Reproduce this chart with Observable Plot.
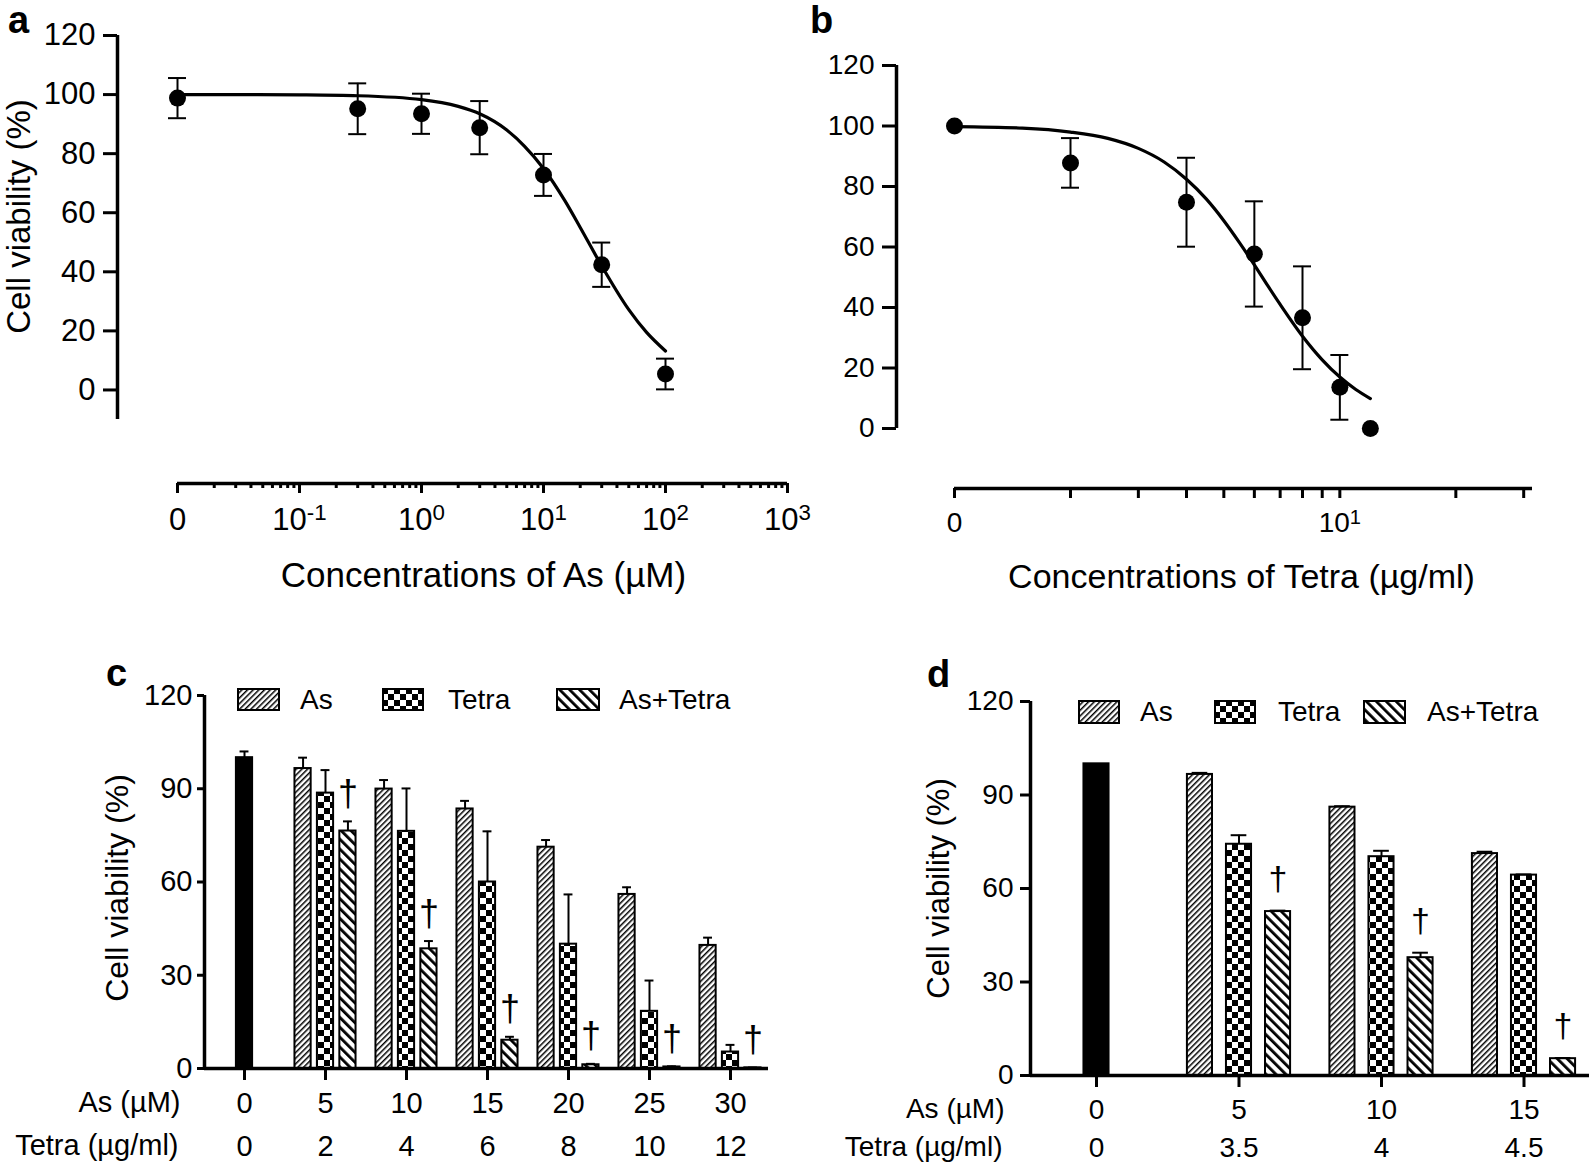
<!DOCTYPE html>
<html><head><meta charset="utf-8">
<script src="https://cdn.jsdelivr.net/npm/d3@7"></script>
<script src="https://cdn.jsdelivr.net/npm/@observablehq/plot@0.6"></script>
<style>
body{margin:0;background:#fff;}
#fig{position:relative;width:1595px;height:1171px;background:#fff;font-family:"Liberation Sans",Arial,Helvetica,sans-serif;color:#000;overflow:hidden}
.panel{position:absolute}
.letter{position:absolute;font-weight:bold;font-size:38px;line-height:38px}
.leg{position:absolute;font-size:28px;line-height:28px;white-space:nowrap}
.sw{position:absolute}
</style></head><body>
<svg width="0" height="0" style="position:absolute">
 <defs>
  <pattern id="pAs" patternUnits="userSpaceOnUse" width="4" height="4" patternTransform="rotate(45)">
    <rect width="4" height="4" fill="white"/>
    <rect x="0" y="0" width="1.5" height="4" fill="black"/>
  </pattern>
  <pattern id="pCombo" patternUnits="userSpaceOnUse" width="7" height="7" patternTransform="rotate(-45)">
    <rect width="7" height="7" fill="white"/>
    <rect x="0" y="0" width="2.8" height="7" fill="black"/>
  </pattern>
  <pattern id="pTetra" patternUnits="userSpaceOnUse" width="12" height="12">
    <rect width="12" height="12" fill="white"/>
    <rect x="0" y="0" width="6" height="6" fill="black"/>
    <rect x="6" y="6" width="6" height="6" fill="black"/>
  </pattern>
 </defs>
</svg>
<div id="fig"></div>
<script>
// ---------- DATA ----------
// Panel a: As dose-response
const asConcA = [0, 0.3, 1, 3, 10, 30, 100];
const viabA   = [98.8, 95.2, 93.5, 88.8, 72.8, 42.4, 5.4];
const sdA     = [6.8, 8.6, 6.8, 9.0, 7.1, 7.5, 5.2];
const fitXA   = [0.01, 0.03, 0.1, 0.3, 1, 2, 3, 5, 7, 10, 15, 20, 30, 50, 70, 100];
const fitYA   = [100, 100, 99.9, 99.6, 98.3, 96.0, 93.5, 88.0, 82.5, 75.0, 64.0, 55.0, 42.0, 27.2, 19.5, 13.2];
const majorTicksA  = [0.01, 0.1, 1, 10, 100, 1000];
const majorLabelsA = ["0", "10⁻¹", "10⁰", "10¹", "10²", "10³"];
const yTicksA = [0, 20, 40, 60, 80, 100, 120];

// Panel b: Tetra dose-response
const tetraConcB = [0, 2, 4, 6, 8, 10, 12];
const viabB      = [100, 87.8, 74.8, 57.7, 36.6, 13.6, 0];
const sdB        = [0, 8.2, 14.7, 17.4, 17.0, 10.7, 0];
const fitXB = [1, 1.5, 2, 2.5, 3, 3.5, 4, 4.5, 5, 5.5, 6, 6.5, 7, 8, 9, 10, 11, 12];
const fitYB = [99.8, 99.3, 98.0, 95.9, 92.6, 88.1, 82.4, 75.9, 68.7, 61.3, 54.1, 47.2, 41.0, 30.5, 22.7, 17.0, 12.9, 9.9];
const ticksB       = [1, 2, 3, 4, 5, 6, 7, 8, 9, 10, 20, 30];
const majorTicksB  = [1, 10];
const majorLabelsB = ["0", "10¹"];
const yTicksB = [0, 20, 40, 60, 80, 100, 120];

// Panel c: combination bars
const seriesNames = ["As", "Tetra", "As+Tetra"];
const asDoseC    = ["0", "5", "10", "15", "20", "25", "30"];
const tetraDoseC = ["0", "2", "4", "6", "8", "10", "12"];
const controlC = 100, controlSdC = 2.0;
const asC      = [96.5, 89.9, 83.5, 71.2, 56.0, 39.6];
const asSdC    = [3.5, 2.9, 2.6, 2.3, 2.3, 2.5];
const tetraC   = [88.6, 76.3, 60.0, 40.0, 18.4, 5.3];
const tetraSdC = [7.4, 13.8, 16.3, 16.0, 9.9, 2.3];
const comboC   = [76.4, 38.5, 9.1, 1.2, 0.5, 0.2];
const comboSdC = [3.1, 2.5, 1.1, 0.3, 0.2, 0.1];
const sigC     = ["†", "†", "†", "†", "†", "†"];

// Panel d: combination bars
const asDoseD    = ["0", "5", "10", "15"];
const tetraDoseD = ["0", "3.5", "4", "4.5"];
const controlD = 100, controlSdD = 0;
const asD      = [96.6, 86.1, 71.2];
const asSdD    = [0.5, 0.3, 0.6];
const tetraD   = [74.2, 70.2, 64.3];
const tetraSdD = [2.9, 1.9, 0.2];
const comboD   = [52.6, 37.8, 5.4];
const comboSdD = [0.3, 1.6, 0.2];
const sigD     = ["†", "†", "†"];
const yTicksBar = [0, 30, 60, 90, 120];

// ---------- HELPERS ----------
const FONT = '"Liberation Sans", Arial, Helvetica, sans-serif';
const fig = document.getElementById("fig");
const SUP = {"⁻": "-", "⁰": "0", "¹": "1", "²": "2", "³": "3"};
function fixSuperscripts(svg) {
  svg.querySelectorAll("text").forEach(t => {
    const m = /^(10)([⁻⁰¹²³]+)$/.exec(t.textContent);
    if (!m || t.children.length) return;
    t.textContent = m[1];
    const ns = "http://www.w3.org/2000/svg";
    const s = document.createElementNS(ns, "tspan");
    s.setAttribute("dy", "-0.42em");
    s.setAttribute("font-size", "0.72em");
    s.textContent = [...m[2]].map(c => SUP[c]).join("");
    t.appendChild(s);
  });
  return svg;
}
function place(el, left, top) {
  const d = document.createElement("div");
  d.className = "panel"; d.style.left = left + "px"; d.style.top = top + "px";
  d.appendChild(el); fig.appendChild(d);
}
function logDomainStart(a0, a1, gap, fw) {
  const u0 = Math.log10(a0), u1 = Math.log10(a1), r = gap / fw;
  return Math.pow(10, (u0 - r * u1) / (1 - r));
}
function linDomainStart(lo, hi, gap, fh) { return lo - gap * (hi - lo) / (fh - gap); }

function dosePanel(o) {
  const fw = o.width - o.marginLeft - o.marginRight;
  const fh = o.height - o.marginTop - o.marginBottom;
  const xMin = logDomainStart(o.axisX[0], o.axisX[1], o.gapX, fw);
  const yMin = linDomainStart(o.axisY[0], o.axisY[1], o.gapY, fh);
  const pts = o.conc.map((c, i) => ({x: c === 0 ? o.zeroAt : c, v: o.viab[i], sd: o.sd[i]}));
  const eb = pts.filter(d => d.sd > 0);
  const fit = o.fitX.map((x, i) => ({x, v: o.fitY[i]}));
  const lab = new Map(o.majorTicks.map((t, i) => [t, o.majorLabels[i]]));
  const marks = [
    Plot.ruleX([xMin], {y1: o.axisY[0], y2: o.axisY[1], strokeWidth: 3.5}),
    Plot.ruleY([yMin], {x1: o.axisX[0], x2: o.axisX[1], strokeWidth: 3.5}),
    Plot.axisY({ticks: o.yTicks, tickSize: 14, tickPadding: 8, fontSize: o.tickFont, strokeWidth: 3, tickFormat: d => String(d)}),
    Plot.axisX({ticks: o.minorTicks, tickSize: o.minorSize, tickFormat: () => "", strokeWidth: 3}),
    Plot.axisX({ticks: o.majorTicks, tickSize: 10, tickPadding: 14, fontSize: o.tickFont, strokeWidth: 3, tickFormat: d => lab.get(d) ?? ""}),
    Plot.line(fit, {x: "x", y: "v", curve: "monotone-x", strokeWidth: 3.2, stroke: "black"}),
    Plot.ruleX(eb, {x: "x", y1: d => d.v - d.sd, y2: d => d.v + d.sd, strokeWidth: 2}),
    Plot.ruleY(eb, {y: d => d.v + d.sd, x1: "x", x2: "x", insetLeft: -9, insetRight: -9, strokeWidth: 2}),
    Plot.ruleY(eb, {y: d => d.v - d.sd, x1: "x", x2: "x", insetLeft: -9, insetRight: -9, strokeWidth: 2}),
    Plot.dot(pts, {x: "x", y: "v", r: 8.5, fill: "black"}),
    Plot.text([o.xTitle], {frameAnchor: "bottom", textAnchor: "middle", lineAnchor: "middle", dx: o.xTitleDx, dy: o.xTitleDy, fontSize: o.xTitleFont})
  ];
  if (o.yTitle) marks.push(Plot.text([o.yTitle], {frameAnchor: "left", textAnchor: "middle", lineAnchor: "middle", rotate: -90, dx: o.yTitleDx, dy: o.yTitleDy, fontSize: o.yTitleFont}));
  return fixSuperscripts(Plot.plot({
    width: o.width, height: o.height,
    marginLeft: o.marginLeft, marginRight: o.marginRight, marginTop: o.marginTop, marginBottom: o.marginBottom,
    style: {fontFamily: FONT, color: "black", background: "transparent", overflow: "visible"},
    x: {type: "log", domain: [xMin, o.axisX[1]], label: null},
    y: {domain: [yMin, o.axisY[1]], label: null},
    marks
  }));
}

function barPanel(o) {
  const fills = {"Control": "black", "As": "url(#pAs)", "Tetra": "url(#pTetra)", "As+Tetra": "url(#pCombo)"};
  const offs = {"As": -o.offset, "Tetra": 0, "As+Tetra": o.offset};
  const bars = [{g: 0, s: "Control", v: o.control, sd: o.controlSd, c: 0}];
  const vals = {"As": [o.as, o.asSd], "Tetra": [o.tetra, o.tetraSd], "As+Tetra": [o.combo, o.comboSd]};
  for (let i = 0; i < o.as.length; i++) {
    for (const s of seriesNames) {
      bars.push({g: i + 1, s, v: vals[s][0][i], sd: vals[s][1][i], c: i + 1 + offs[s], sig: s === "As+Tetra" ? o.sig[i] : null});
    }
  }
  const n = o.asDose.length;
  const idx = d3.range(n);
  const hw = o.barHalf, cw = o.capHalf;
  const eb = bars.filter(d => d.sd > 0);
  const marks = [];
  for (const s of ["Control", ...seriesNames]) {
    marks.push(Plot.rect(bars.filter(d => d.s === s), {x1: d => d.c - hw, x2: d => d.c + hw, y1: 0, y2: "v", fill: fills[s], stroke: "black", strokeWidth: 2}));
  }
  marks.push(
    Plot.ruleX(eb, {x: "c", y1: "v", y2: d => d.v + d.sd, strokeWidth: 2}),
    Plot.ruleY(eb, {y: d => d.v + d.sd, x1: d => d.c - cw, x2: d => d.c + cw, strokeWidth: 2}),
    Plot.text(bars.filter(d => d.sig), {x: "c", y: d => d.v + d.sd, text: "sig", dy: o.sigDy, fontSize: o.sigFont}),
    Plot.ruleY([0], {strokeWidth: 3.5}),
    Plot.ruleX([o.xDomain[0]], {y1: 0, y2: 120, strokeWidth: 3.5}),
    Plot.axisY({ticks: yTicksBar, tickSize: o.yTickSize, tickPadding: o.yTickPad, fontSize: o.tickFont, strokeWidth: 3, tickFormat: d => String(d)}),
    Plot.axisX({ticks: idx, tickSize: 12, tickPadding: o.row1Pad, fontSize: o.tickFont, strokeWidth: 3, tickFormat: i => o.asDose[i]}),
    Plot.axisX({ticks: idx, tickSize: 0, tickPadding: o.row2Pad, fontSize: o.tickFont, tickFormat: i => o.tetraDose[i]}),
    Plot.text(["As (µM)"], {frameAnchor: "bottom-left", textAnchor: "end", lineAnchor: "middle", dx: o.rowDx, dy: o.row1Dy, fontSize: o.tickFont}),
    Plot.text(["Tetra (µg/ml)"], {frameAnchor: "bottom-left", textAnchor: "end", lineAnchor: "middle", dx: o.rowDx - 2, dy: o.row2Dy, fontSize: o.tickFont}),
    Plot.text(["Cell viability (%)"], {frameAnchor: "left", textAnchor: "middle", lineAnchor: "middle", rotate: -90, dx: o.yTitleDx, dy: o.yTitleDy, fontSize: o.yTitleFont})
  );
  return Plot.plot({
    width: o.width, height: o.height,
    marginLeft: o.marginLeft, marginRight: o.marginRight, marginTop: o.marginTop, marginBottom: o.marginBottom,
    style: {fontFamily: FONT, color: "black", background: "transparent", overflow: "visible"},
    x: {type: "linear", domain: o.xDomain, label: null},
    y: {domain: [0, 120], label: null},
    marks
  });
}

function minorLogTicks(k0, k1) {
  const t = [];
  for (let k = k0; k <= k1; k++) for (let m = 2; m <= 9; m++) t.push(m * Math.pow(10, k));
  return t;
}

// ---------- PANELS ----------
place(dosePanel({
  width: 800, height: 600, marginLeft: 117, marginRight: 13, marginTop: 35, marginBottom: 117,
  axisX: [0.01, 1000], gapX: 60, axisY: [-10, 120], gapY: 64, zeroAt: 0.01,
  conc: asConcA, viab: viabA, sd: sdA, fitX: fitXA, fitY: fitYA,
  yTicks: yTicksA, majorTicks: majorTicksA, majorLabels: majorLabelsA, minorTicks: minorLogTicks(-2, 2), minorSize: 5,
  tickFont: 31,
  xTitle: "Concentrations of As (µM)", xTitleDx: 31, xTitleDy: 92, xTitleFont: 35,
  yTitle: "Cell viability (%)", yTitleDx: -98, yTitleDy: -43, yTitleFont: 33
}), 0, 0);

place(dosePanel({
  width: 795, height: 600, marginLeft: 96, marginRight: 63, marginTop: 65, marginBottom: 112,
  axisX: [1, 31.62], gapX: 58, axisY: [0, 120], gapY: 60, zeroAt: 1,
  conc: tetraConcB, viab: viabB, sd: sdB, fitX: fitXB, fitY: fitYB,
  yTicks: yTicksB, majorTicks: majorTicksB, majorLabels: majorLabelsB, minorTicks: ticksB.filter(t => !majorTicksB.includes(t)), minorSize: 10,
  tickFont: 28,
  xTitle: "Concentrations of Tetra (µg/ml)", xTitleDx: 27, xTitleDy: 89, xTitleFont: 34,
  yTitle: null
}), 800, 0);

place(barPanel({
  width: 800, height: 531, marginLeft: 204, marginRight: 32, marginTop: 55, marginBottom: 103,
  xDomain: [-40 / 81, (564 - 40) / 81], offset: 0.277, barHalf: 0.1, capHalf: 0.055,
  control: controlC, controlSd: controlSdC, as: asC, asSd: asSdC, tetra: tetraC, tetraSd: tetraSdC, combo: comboC, comboSd: comboSdC, sig: sigC,
  asDose: asDoseC, tetraDose: tetraDoseC,
  sigDy: -27, sigFont: 36, tickFont: 29, yTickSize: 7, yTickPad: 5,
  row1Pad: 12, row2Pad: 67, rowDx: -24, row1Dy: 34, row2Dy: 77,
  yTitleDx: -87, yTitleDy: 6, yTitleFont: 32
}), 0, 640);

place(barPanel({
  width: 795, height: 531, marginLeft: 230, marginRight: 6, marginTop: 61, marginBottom: 96,
  xDomain: [-66 / 142.5, (559 - 66) / 142.5], offset: 0.274, barHalf: 0.088, capHalf: 0.055,
  control: controlD, controlSd: controlSdD, as: asD, asSd: asSdD, tetra: tetraD, tetraSd: tetraSdD, combo: comboD, comboSd: comboSdD, sig: sigD,
  asDose: asDoseD, tetraDose: tetraDoseD,
  sigDy: -32, sigFont: 34, tickFont: 28, yTickSize: 10, yTickPad: 7,
  row1Pad: 12, row2Pad: 62, rowDx: -26, row1Dy: 34, row2Dy: 72,
  yTitleDx: -91, yTitleDy: 0, yTitleFont: 31
}), 800, 640);

// ---------- PANEL LETTERS ----------
[["a", 8, 1], ["b", 810, 1], ["c", 106, 654], ["d", 927, 655]].forEach(([t, x, y]) => {
  const d = document.createElement("div"); d.className = "letter"; d.textContent = t;
  d.style.left = x + "px"; d.style.top = y + "px"; fig.appendChild(d);
});

// ---------- LEGENDS ----------
const legendFills = ["url(#pAs)", "url(#pTetra)", "url(#pCombo)"];
function legend(items, cy) {
  items.forEach(([sx, sw, sh, tx], i) => {
    const ns = "http://www.w3.org/2000/svg";
    const svg = document.createElementNS(ns, "svg");
    svg.setAttribute("width", sw); svg.setAttribute("height", sh);
    svg.setAttribute("class", "sw");
    svg.style.left = sx + "px"; svg.style.top = (cy - sh / 2) + "px";
    const r = document.createElementNS(ns, "rect");
    r.setAttribute("x", 1); r.setAttribute("y", 1); r.setAttribute("width", sw - 2); r.setAttribute("height", sh - 2);
    r.setAttribute("fill", legendFills[i]); r.setAttribute("stroke", "black"); r.setAttribute("stroke-width", 2);
    svg.appendChild(r); fig.appendChild(svg);
    const t = document.createElement("div"); t.className = "leg"; t.textContent = seriesNames[i];
    t.style.left = tx + "px"; t.style.top = (cy - 13.7) + "px"; fig.appendChild(t);
  });
}
legend([[237, 43, 23, 300], [382, 42, 23, 448], [556, 44, 23, 619]], 699.5);
legend([[1078, 42, 24, 1140], [1214, 42, 24, 1278], [1363, 43, 24, 1427]], 712);
</script></body></html>
